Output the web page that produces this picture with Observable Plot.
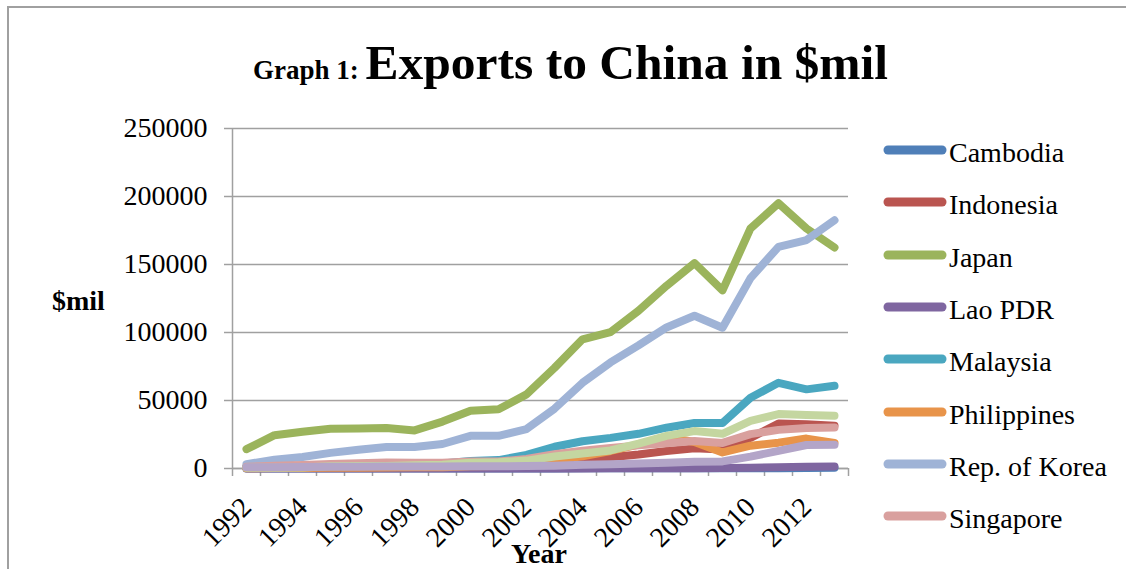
<!DOCTYPE html>
<html>
<head>
<meta charset="utf-8">
<script src="https://cdn.jsdelivr.net/npm/d3@7"></script>
<script src="https://cdn.jsdelivr.net/npm/@observablehq/plot@0.6"></script>
<style>
  html, body { margin: 0; padding: 0; background: #fff; }
  #page { position: relative; width: 1126px; height: 569px; overflow: hidden; background: #fff; font-family: "Liberation Serif", "Times New Roman", serif; color: #000; }
  #border { position: absolute; left: 7px; top: 6px; width: 1300px; height: 700px; border-left: 2px solid #a0a0a0; border-top: 2px solid #a0a0a0; }
  #title { position: absolute; left: 253px; top: 33px; line-height: 60px; white-space: nowrap; font-weight: bold; }
  #title .small { font-size: 27px; }
  #title .big { font-size: 49.5px; }
  #chart { position: absolute; left: 0; top: 100px; }
  #ylabel { position: absolute; left: 52px; top: 287px; font-size: 28px; line-height: 28px; font-weight: bold; }
  #xlabel { position: absolute; left: 511px; top: 540px; font-size: 28px; line-height: 28px; font-weight: bold; }
  .lg-row { position: absolute; left: 882px; width: 240px; height: 52px; }
  .lg-row svg { position: absolute; left: 0; top: 20px; }
  .lg-row span { position: absolute; left: 67px; top: 15px; font-size: 28px; line-height: 28px; white-space: nowrap; }
</style>
</head>
<body>
<div id="page">
  <div id="border"></div>
  <div id="title"><span class="small">Graph 1: </span><span class="big">Exports to China in $mil</span></div>
  <div id="chart"></div>
  <div id="ylabel">$mil</div>
  <div id="xlabel">Year</div>
  <div id="legend"></div>
</div>
<script>
// ---- Data (US$ million) ----
const years = [1992,1993,1994,1995,1996,1997,1998,1999,2000,2001,2002,2003,2004,2005,2006,2007,2008,2009,2010,2011,2012,2013];

const cambodia    = [20,20,30,40,50,60,80,60,60,50,60,80,100,120,140,150,190,140,200,250,400,500];
const indonesia   = [1500,1600,1700,2100,2300,2700,2500,3100,4400,3900,4500,5500,7000,8300,10300,12800,14800,14000,22500,33000,32500,31500];
const japan       = [14200,24500,27000,29200,29500,29800,28000,34500,42500,43500,54500,74000,95000,100300,116000,134300,151000,131000,176500,195000,176500,162500];
const lao         = [0,0,0,0,0,0,0,0,0,0,0,0,50,100,150,200,250,350,600,900,1300,1500];
const malaysia    = [1500,1800,2000,2100,2300,2500,2700,3600,5500,6200,10000,16000,20000,22500,25500,30000,33500,33500,52000,63000,58200,60800];
const philippines = [200,300,400,500,600,700,1000,1000,1700,1900,3200,6300,9000,12900,17500,23000,19500,11800,16800,19000,22000,18800];
const korea       = [3200,6500,8500,11500,13800,15800,15800,18000,24000,24000,29000,44000,63000,78000,90500,103700,112300,103500,140000,163000,168000,182500];
const singapore   = [1200,2000,2500,3400,3800,4400,4200,4300,5100,5100,7000,10500,13000,15000,17000,18500,20300,18800,25300,28400,29800,30100];
const thailand    = [500,600,800,1600,1900,1900,2400,2800,4200,4600,5800,8800,11000,13300,18300,24000,27500,25500,35000,40000,39300,38800];
const vietnam     = [900,1000,1100,1200,1300,1400,1400,1500,1600,1700,1800,2100,2700,3100,3600,4200,5000,5200,8700,13000,17300,17500];

const countries = ["Cambodia","Indonesia","Japan","Lao PDR","Malaysia","Philippines","Rep. of Korea","Singapore","Thailand","Viet Nam"];
const series = [cambodia, indonesia, japan, lao, malaysia, philippines, korea, singapore, thailand, vietnam];
const colors = ["#4F7FB8","#BA5550","#9BB45C","#7F66A0","#4AA7C0","#E8944A","#9FB3D6","#D9A09E","#C4D6A0","#B3A5C8"];
const legendShown = 8; // the chart box crops the legend after "Singapore"

const yTicks = [0, 50000, 100000, 150000, 200000, 250000];
const xLabelYears = [1992,1994,1996,1998,2000,2002,2004,2006,2008,2010,2012];

// ---- Derived tables ----
const rows = countries.flatMap((c, i) => years.map((yr, j) => ({country: c, year: yr, value: series[i][j]})));
const xDomain = [years[0] - 0.5, years[years.length - 1] + 0.5];
const boundaries = years.map(y => y - 0.5).concat([years[years.length - 1] + 0.5]);

const chart = Plot.plot({
  width: 1126,
  height: 469,
  marginLeft: 232,
  marginRight: 278,
  marginTop: 28,
  marginBottom: 101,
  x: {type: "linear", domain: xDomain},
  y: {domain: [0, 250000]},
  style: {fontFamily: "'Liberation Serif', 'Times New Roman', serif", fontSize: "28px", color: "#000", background: "transparent", overflow: "visible"},
  marks: [
    Plot.gridY(yTicks, {stroke: "#a0a0a0", strokeOpacity: 1, strokeWidth: 1.5}),
    Plot.axisY({ticks: yTicks, tickSize: 8, tickPadding: 17, tickFormat: d => String(d), label: null, stroke: "#a0a0a0", strokeWidth: 1.5, fontSize: 28}),
    Plot.axisX({ticks: boundaries, tickSize: 8, tickFormat: () => "", label: null, stroke: "#a0a0a0", strokeWidth: 1.5}),
    Plot.axisX({ticks: xLabelYears, tickSize: 0, tickPadding: 34, tickRotate: -45, tickFormat: d => String(d), label: null, fontSize: 28}),
    Plot.ruleY([0], {stroke: "#a0a0a0", strokeWidth: 1.5}),
    Plot.ruleX([xDomain[0]], {stroke: "#a0a0a0", strokeWidth: 1.5}),
    ...countries.map((c, i) => Plot.line(rows.filter(d => d.country === c), {
      x: "year", y: "value", stroke: colors[i], strokeWidth: 8,
      strokeLinecap: "round", strokeLinejoin: "round"
    }))
  ]
});
document.getElementById("chart").appendChild(chart);

// ---- Legend ----
const legend = document.getElementById("legend");
countries.slice(0, legendShown).forEach((c, i) => {
  const row = document.createElement("div");
  row.className = "lg-row";
  row.style.top = (150 + i * 52.3 - 26) + "px";
  row.innerHTML = `<svg width="66" height="12"><line x1="6" y1="6" x2="60" y2="6" stroke="${colors[i]}" stroke-width="9" stroke-linecap="round"/></svg><span>${c}</span>`;
  legend.appendChild(row);
});
</script>
</body>
</html>
